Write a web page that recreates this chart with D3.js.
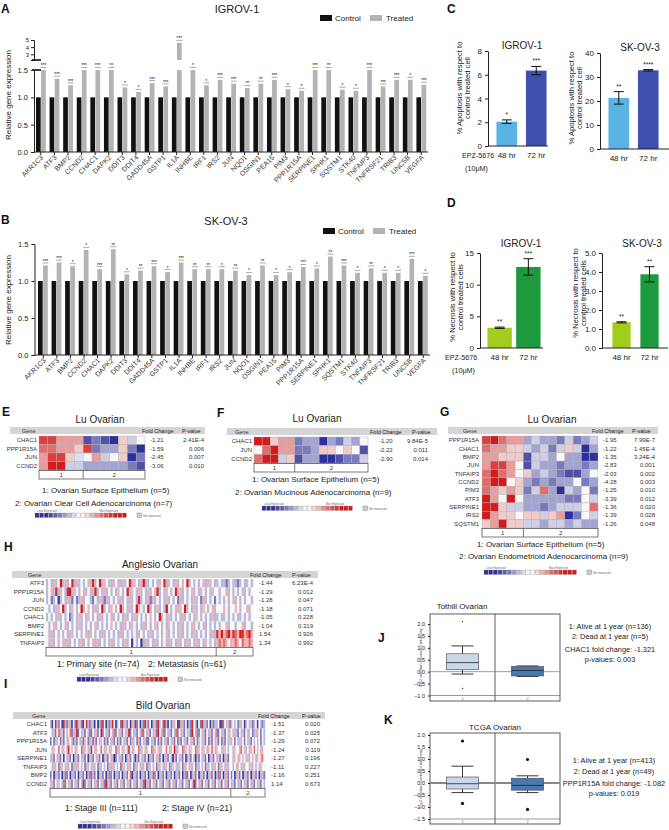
<!DOCTYPE html>
<html><head><meta charset="utf-8">
<script src="https://cdn.jsdelivr.net/npm/d3@7"></script>
<style>body{margin:0;background:#fff}svg{font-family:"Liberation Sans",Arial,sans-serif}</style>
</head><body>
<svg id="c" width="669" height="830"></svg>
<script>
// ---------------- DATA ----------------
const genes = ["AKR1C3","ATF3","BMP2","CCND2","CHAC1","DAPK2","DDIT3","DDIT4","GADD45A","GSTP1","IL1A","INHBE","IRF1","IRS2","JUN","NQO1","OSGIN1","PEA15","PIM3","PPP1R15A","SERPINE1","SPHK1","SQSTM1","STK40","TNFAIP3","TNFRSF21","TRIB3","UNC5B","VEGFA"];
const controlA = [1,1,1,1,1,1,1,1,1,1,1,1,1,1,1,1,1,1,1,1,1,1,1,1,1,1,1,1,1];
const treatedA = [1.5,1.34,1.22,1.5,1.5,1.5,1.18,1.10,1.26,1.20,4.6,1.5,1.22,1.32,1.25,1.17,1.25,1.32,1.15,1.12,1.5,1.5,1.14,1.12,1.5,1.20,1.32,1.32,1.23];
const starsA = ["***","***","***","***","***","**","*","*","***","***","***","*","*","***","***","**","**","***","*","*","***","**","*","*","***","***","***","*","***"];
const controlB = [1,1,1,1,1,1,1,1,1,1,1,1,1,1,1,1,1,1,1,1,1,1,1,1,1,1,1,1,1];
const treatedB = [1.21,1.25,1.20,1.42,1.16,1.43,1.09,1.14,1.20,1.12,1.25,1.16,1.16,1.16,1.14,1.08,1.21,1.08,1.12,1.19,1.17,1.33,1.21,1.11,1.17,1.11,1.11,1.30,1.07];
const starsB = ["***","***","*","*","***","**","*","**","***","*","***","**","**","*","**","*","**","*","*","***","*","**","***","*","**","*","*","***","*"];
const yTicksLower = [0,0.5,1.0,1.5];
const yTicksUpper = [3,4,5];

const timeCats = ["48 hr","72 hr"];
const apopIgrov = [2.05,6.35], apopIgrovErr = [0.15,0.35], apopIgrovStars = ["*","***"];
const apopSkov = [21.3,32.8], apopSkovErr = [2.6,0.3], apopSkovStars = ["**","****"];
const necIgrov = [3.2,12.8], necIgrovErr = [0.1,1.3], necIgrovStars = ["**","***"];
const necSkov = [1.35,3.88], necSkovErr = [0.03,0.4], necSkovStars = ["**","**"];

const genesE = ["CHAC1","PPP1R15A","JUN","CCND2"];
const fcE = ["-1.21","-1.59","-2.45","-3.06"];
const pE = ["2.41E-4","0.006","0.007","0.010"];
const heatE = [
 [2,2,1,1,1,-2,-1.5,-2,-3,0.5,-0.5,0],
 [1.5,1.5,1,1,0.5,2,-1.5,-1,-1,0.5,-1.5,-3],
 [1,2,2,0.5,-0.3,0,1,-0.5,0,0.5,-3,-1.5],
 [1,2.5,2.5,-0.5,-0.5,-1,-1,-1,-1,-1,-1.5,-2]];
const genesF = ["CHAC1","JUN","CCND2"];
const fcF = ["-1.20","-2.22","-2.90"];
const pF = ["9.84E-5","0.011","0.014"];
const heatF = [
 [2.5,2.5,0.5,1,1,-1.5,-1,-1,-3,-1,-1.5,-0.5,-1,0],
 [0,1.5,3,1,1,-1.5,-1.5,-1,0.5,0.5,0,0.5,0,-2],
 [1.5,2.5,2.5,-0.5,0.5,-2,-1,-1,-2.5,-2.5,-2,-1.5,-1.5,-0.5]];
const genesG = ["PPP1R15A","CHAC1","BMP2","JUN","TNFAIP3","CCND2","PIM3","ATF3","SERPINE1","IRS2","SQSTM1"];
const fcG = ["-1.95","-1.22","-1.35","-2.83","-2.03","-4.28","-1.25","-3.39","-1.36","-1.39","-1.26"];
const pG = ["7.99E-7","1.45E-4","3.24E-4","0.001","0.002","0.003","0.010","0.012","0.020","0.028","0.048"];
const heatG = [
 [2,2.5,1.5,1,1,-1,-0.5,-1,-1,-1.5,-0.5,-1.5,-1,-0.5],
 [1.5,1,1,0.5,0.5,-0.5,-1,-0.5,-1.5,-0.5,0.5,-0.5,-2.5,-1],
 [1,1,0.5,0.5,0.5,-2,-0.5,-0.5,-1,0,-1,-1,-2.5,-2.5],
 [1,2,2,1,0,-2,-0.5,-1,-1,-1.5,-1,-1,-1.5,-1],
 [1.5,2.5,1.5,1,0,0.5,-1,-0.5,-1,-1.5,-2,-2,-1,0],
 [1.5,2.5,2.5,0,0.5,-1,-1.5,-1,-1.5,-1,-1,0,-1.5,-1],
 [1.5,1,0.5,1,0.5,-1.5,-0.5,1.5,-1,-3,-0.5,-1,0,-1.5],
 [2.5,1,0,3,0,-1,-1,-1,-1,-1,-1.5,-1.5,0,-0.5],
 [3,2.5,0.5,-0.5,-0.5,-1,-1,-1.5,-1,-0.5,-0.5,-0.5,0,1.5],
 [2.5,1,0.5,0.5,0,0.5,0.5,-0.5,0.5,1,-3,-1.5,0,-0.5],
 [0.5,1,3.5,0.5,0.5,-0.5,-0.5,-1,-0.5,-0.5,-1,-0.5,-1,-1]];

// Anglesio: digit codes 0 (least) .. 4 (white) .. 8 (most); group1 | group2
const genesH = ["ATF3","PPP1R15A","JUN","CCND2","CHAC1","BMP2","SERPINE1","TNFAIP3"];
const fcH = ["-1.44","-1.29","-1.28","-1.18","-1.05","-1.04","1.54","1.34"];
const pH = ["6.23E-4","0.012","0.047","0.071","0.228","0.319","0.926","0.992"];
const heatH1 = [
 "3435348353 4735343453 7348354335 4335347354 3583343435 4735435345 4834343453 5343",
 "3453735437 8354345343 5734353434 3543473543 5343534573 4354347353 4345343543 4354",
 "3423413435 3242353443 2435325343 4353435343 7343525343 4353434253 4343534253 4342",
 "4343534834 3543483454 3534834354 3483435348 5434834353 4384345354 8343534354 3453",
 "3434353434 2343534354 3435343453 4343534353 4343454348 3435343435 3434354343 4353",
 "4345343453 4343534343 4534343454 3435343543 4353434534 3435434353 4345343453 4343",
 "4353434343 5343434535 4343534343 4353434343 5434353434 3453434353 4343534343 4353",
 "4353434535 3434353434 5353434353 4343534143 4135343534 3435343534 3534353435 4343"];
const heatH2 = [
 "3433234332 343343","4344534343 453434","4343434534 343443","4445434454 344534",
 "3433434343 343434","4344534434 453443","7585685765 875685","5656545565 465565"];

const genesI = ["CHAC1","ATF3","PPP1R15A","JUN","SERPINE1","TNFAIP3","BMP2","CCND2"];
const fcI = ["-1.51","-1.37","-1.29","-1.24","-1.27","-1.11","-1.16","1.14"];
const pI = ["0.020","0.025","0.072","0.119","0.196","0.227","0.251","0.673"];
const heatI1 = [
 "3147324173 2531427352 1473253140 3274152374 1342735241 5372413275 2413527342 7314253417 3524132743 1427352413 2534172435 2",
 "4352463524 3462538243 5243624352 4824352436 2435243582 4352436243 5243528436 2435243624 3524352843 6243524352 4362435243 5",
 "2425342524 3543252435 2542352524 3542524352 4252435242 5342524352 2435242524 3524352425 2435243524 2543524252 4352425243 5",
 "4354464354 3745435446 3543574354 4643543544 6354354374 3544635435 4463545354 4643548354 4635435446 3543543546 4354453543 4",
 "3524352414 3524135243 5241352435 2413524350 2435241352 4315243524 1352435241 3524305243 5241352431 5243524135 2435241352 4",
 "4353425343 5342535343 4253435342 5343425353 4342534353 4253435342 5343425343 5342534353 4253435342 5343425343 5342534353 4",
 "2413524136 2413524135 2413625241 3524136241 3524135246 1352413524 1352641352 4135241352 4136241352 4135241352 4136241352 4",
 "3524354362 4352435243 7243524352 4352835243 5243524352 4352435283 5243524352 4352435243 5243524382 4352435243 5243524352 4"];
const heatI2 = [
 "3434253413 4352341432 3","4353243524 3542353424 3","3424353424 3524343424 3","4354436453 4354645435 4",
 "4354534543 5345435456 4","4345343534 4353434534 4","2413524135 2413524135 2","3524352435 2435243524 3"];

const legendLevels = [-3,-2.7,-2.4,-2.1,-1.8,-1.5,-1.1,-0.7,-0.35,0,0,0.35,0.7,1.1,1.5,1.8,2.1,2.4,2.7,3];

const boxCats = ["1","2"];
const boxJ = [[-0.1,0.08,0.38,0.75,1.08],[-0.2,-0.18,0.05,0.22,0.24]];
const outJ = [[2.1,-0.7],[]];
const boxK = [[-0.4,-0.25,-0.03,0.25,0.7],[-0.4,-0.3,-0.1,0.2,0.3]];
const outK = [[1.75,-0.85],[0.98,-1.1]];
const ticksJ = [-1.0,-0.5,0.0,0.5,1.0,1.5,2.0];
const ticksK = [-1.5,-1.0,-0.5,0.0,0.5,1.0,1.5,2.0];

// ---------------- DRAW ----------------
const svg = d3.select("#c");
function T(x,y,s,o={}){
  const t = svg.append("text").attr("x",x).attr("y",y).text(s)
    .attr("font-size",o.fs||8).attr("fill",o.fill||"#222")
    .attr("text-anchor",o.anchor||"start");
  if(o.bold) t.attr("font-weight","bold");
  if(o.rot!==undefined) t.attr("transform",`rotate(${o.rot},${x},${y})`);
  return t;
}
function styleAxis(g,fs){
  g.selectAll("text").attr("font-size",fs).attr("fill","#222").attr("font-family","Liberation Sans, Arial, sans-serif");
  g.selectAll("path,line").attr("stroke","#222");
}
[["A",1,13],["B",1,224],["C",447,13],["D",447,207],["E",2,416],["F",217,417],["G",440,416],["H",4,551],["I",4,688],["J",378,642],["K",384,724]]
 .forEach(([s,x,y])=>T(x,y,s,{fs:12,bold:true,fill:"#111"}));

function drawExpr(o){
  const g = svg.append("g");
  const x = d3.scaleBand().domain(genes).range([o.x0,o.x1]);
  const y = d3.scaleLinear().domain([0,1.5]).range([o.yb,o.yt]);
  const bw = 4.7;
  const cl = v=>Math.min(v,1.5);
  g.selectAll(null).data(genes).join("rect")
    .attr("x",d=>x(d)+o.off).attr("y",(d,i)=>y(cl(o.control[i])))
    .attr("width",bw).attr("height",(d,i)=>y(0)-y(cl(o.control[i]))).attr("fill","#111");
  g.selectAll(null).data(genes).join("rect")
    .attr("x",d=>x(d)+o.off+bw+0.4).attr("y",(d,i)=>y(cl(o.treated[i])))
    .attr("width",bw).attr("height",(d,i)=>y(0)-y(cl(o.treated[i]))).attr("fill","#b3b3b3");
  let yU=null;
  if(o.upper){
    yU = d3.scaleLinear().domain(o.upper.domain).range(o.upper.range);
    const big = genes.map((d,i)=>i).filter(i=>o.treated[i]>o.upper.domain[0]);
    g.selectAll(null).data(big).join("rect")
      .attr("x",i=>x(genes[i])+o.off+bw+0.4).attr("y",i=>yU(o.treated[i]))
      .attr("width",bw).attr("height",i=>yU(o.upper.domain[0])-yU(o.treated[i])).attr("fill","#b3b3b3");
    const ga = g.append("g").attr("transform",`translate(${o.ax},0)`)
      .call(d3.axisLeft(yU).tickValues(yTicksUpper).tickFormat(d3.format("d")).tickSize(3).tickPadding(2));
    styleAxis(ga,6);
    [o.upper.range[0], o.yt].forEach(yy=>g.append("line").attr("x1",o.ax-2).attr("x2",o.ax+7).attr("y1",yy).attr("y2",yy).attr("stroke","#111").attr("stroke-width",1.6));
  }
  genes.forEach((d,i)=>{
    const v=o.treated[i];
    const top = (yU && v>o.upper.domain[0]) ? yU(v) : y(cl(v));
    const cx = x(d)+o.off+bw+0.4+bw/2;
    g.append("line").attr("x1",cx-3).attr("x2",cx+3).attr("y1",top-2.5).attr("y2",top-2.5).attr("stroke","#555").attr("stroke-width",0.5);
    g.append("text").attr("x",cx).attr("y",top-2.6).attr("text-anchor","middle").attr("font-size",4.6).attr("fill","#000").text(o.stars[i]);
  });
  const gy = g.append("g").attr("transform",`translate(${o.ax},0)`)
    .call(d3.axisLeft(y).tickValues(yTicksLower).tickFormat(d3.format(".1f")).tickSize(3));
  styleAxis(gy,7.5);
  const gx = g.append("g").attr("transform",`translate(0,${o.yb})`)
    .call(d3.axisBottom(x).tickSize(3).tickSizeOuter(0));
  gx.select(".domain").attr("d",`M${o.ax},0H${o.x1}`);
  styleAxis(gx,7);
  gx.selectAll("text").attr("y",0).attr("x",0).attr("dy",0).attr("text-anchor","end")
    .attr("transform","translate(3,6) rotate(-45)").attr("fill","#333");
  T(o.ylx,o.ylY,"Relative gene expression",{fs:8,anchor:"middle",rot:-90});
  T(o.tx,o.ty,o.title,{fs:11,anchor:"middle"});
  svg.append("rect").attr("x",o.lx).attr("y",o.ly-4).attr("width",12).attr("height",6).attr("fill","#111");
  T(o.lx+15,o.ly+2,"Control",{fs:8});
  svg.append("rect").attr("x",o.lx+50).attr("y",o.ly-4).attr("width",12).attr("height",6).attr("fill","#b3b3b3");
  T(o.lx+66,o.ly+2,"Treated",{fs:8});
}
drawExpr({x0:34,x1:428,off:2,yb:152,yt:70,ax:34,control:controlA,treated:treatedA,stars:starsA,
  upper:{domain:[2.2,5],range:[60,40]},ylx:11,ylY:95,title:"IGROV-1",tx:237,ty:13,lx:320,ly:19});
drawExpr({x0:36.5,x1:430,off:1.5,yb:355,yt:244,ax:34.5,control:controlB,treated:treatedB,stars:starsB,
  upper:null,ylx:11,ylY:300,title:"SK-OV-3",tx:226,ty:225,lx:323,ly:232});

function drawSmall(o){
  const g = svg.append("g");
  const x = d3.scaleBand().domain(timeCats).range([o.ax+o.b0,o.ax+o.b1]).paddingInner(o.pad).paddingOuter(0.05);
  const y = d3.scaleLinear().domain([0,o.max]).range([o.y0,o.y1]);
  g.selectAll(null).data(timeCats).join("rect")
    .attr("x",d=>x(d)).attr("y",(d,i)=>y(o.vals[i])).attr("width",x.bandwidth())
    .attr("height",(d,i)=>y(0)-y(o.vals[i])).attr("fill",(d,i)=>o.colors[i]);
  timeCats.forEach((d,i)=>{
    const cx=x(d)+x.bandwidth()/2, hi=y(o.vals[i]+o.errs[i]), lo=y(o.vals[i]-o.errs[i]);
    g.append("path").attr("d",`M${cx},${hi}V${lo}M${cx-5},${hi}H${cx+5}M${cx-5},${lo}H${cx+5}`).attr("stroke","#111").attr("stroke-width",1).attr("fill","none");
    g.append("text").attr("x",cx).attr("y",hi-3).attr("text-anchor","middle").attr("font-size",6.5).attr("fill","#222").text(o.stars[i]);
    T(cx,o.y0+12,d,{fs:8,anchor:"middle"});
  });
  const gy=g.append("g").attr("transform",`translate(${o.ax},0)`).call(d3.axisLeft(y).tickValues(o.ticks).tickSize(3).tickSizeOuter(0));
  styleAxis(gy,8);
  g.append("line").attr("x1",o.ax).attr("x2",o.ax+o.xe).attr("y1",o.y0).attr("y2",o.y0).attr("stroke","#222");
  T(o.tx,o.ty,o.title,{fs:10,anchor:"middle"});
  T(o.lx1,o.lyc,o.l1,{fs:7.6,anchor:"middle",rot:-90});
  T(o.lx2,o.lyc,o.l2,{fs:7.6,anchor:"middle",rot:-90});
  if(o.epz){T(o.epz[0],o.y0+12,"EPZ-5676",{fs:7.2});T(o.epz[1],o.y0+25,"(10μM)",{fs:7.2});}
}
const blueC=["#5ab4e3","#3f4fae"], greenC=["#a3cd1c","#1d9a3d"];
drawSmall({ax:488,y0:146,y1:51,max:8,ticks:[0,2,4,6,8],vals:apopIgrov,errs:apopIgrovErr,stars:apopIgrovStars,colors:blueC,
  b0:7,b1:60,pad:0.3,xe:60,title:"IGROV-1",tx:522,ty:49,l1:"% Apoptosis with  respect to",l2:"control treated cell",lx1:462,lx2:470,lyc:88,epz:[462,465]});
drawSmall({ax:600,y0:149,y1:53,max:40,ticks:[0,10,20,30,40],vals:apopSkov,errs:apopSkovErr,stars:apopSkovStars,colors:blueC,
  b0:7,b1:60,pad:0.3,xe:70,title:"SK-OV-3",tx:640,ty:51,l1:"% Apoptosis with  respect to",l2:"control treated cell",lx1:574,lx2:582,lyc:98});
drawSmall({ax:480,y0:348,y1:253,max:15,ticks:[0,5,10,15],vals:necIgrov,errs:necIgrovErr,stars:necIgrovStars,colors:greenC,
  b0:6,b1:62,pad:0.15,xe:63,title:"IGROV-1",tx:521,ty:247,l1:"% Necrosis with respect to",l2:"control treated cells",lx1:455,lx2:463,lyc:297,epz:[445,452]});
drawSmall({ax:602,y0:348,y1:253,max:5,ticks:[0,1,2,3,4,5],vals:necSkov,errs:necSkovErr,stars:necSkovStars,colors:greenC,
  b0:9,b1:58,pad:0.35,xe:66,title:"SK-OV-3",tx:642,ty:247,l1:"% Necrosis with respect to",l2:"control treated cells",lx1:578,lx2:586,lyc:293});

// heatmaps
const heatColor = d3.scaleLinear().domain([-2.4,0,2.4]).range(["#2e2e9c","#f8f8f8","#d61a1a"]).clamp(true);
const decode = s => s.replace(/ /g,"").split("").map(c=>(+c-4)*0.75);
function drawLegend(x,y,w){
  const sw=w/legendLevels.length;
  svg.selectAll(null).data(legendLevels).join("rect")
    .attr("x",(d,i)=>x+i*sw).attr("y",y).attr("width",sw-0.6).attr("height",4.5)
    .attr("fill",d=>heatColor(d)).attr("stroke","#888").attr("stroke-width",0.3);
  T(x+sw*0.5,y-1.5,"Least Expressed",{fs:2.6,fill:"#666"});
  T(x+w*0.7,y-1.5,"Most Expressed",{fs:2.6,fill:"#666"});
  svg.append("rect").attr("x",x+w+10).attr("y",y).attr("width",4.5).attr("height",4.5).attr("fill","#ccc").attr("stroke","#777").attr("stroke-width",0.4);
  T(x+w+16,y+3.5,"Not measured",{fs:2.8,fill:"#666"});
}
function drawHeat(o){
  const g = svg.append("g");
  T(o.tx,o.ty,o.title,{fs:o.tfs||10,anchor:"middle"});
  g.append("rect").attr("x",o.hx0).attr("y",o.hy).attr("width",o.hx1-o.hx0).attr("height",7).attr("fill","#d5d5d5");
  T(o.geneX,o.hy+5.5,"Gene",{fs:5.5,fill:"#333"});
  T(o.fcHX,o.hy+5.5,"Fold Change",{fs:5.5,fill:"#222"});
  T(o.pHX,o.hy+5.5,"P-value",{fs:5.5,fill:"#222"});
  const nCols = d3.max(o.data,r=>r.length);
  const x = d3.scaleBand().domain(d3.range(nCols)).range([o.cx0,o.cx1]);
  const y = d3.scaleBand().domain(o.genes).range([o.cy0,o.cy1]);
  o.genes.forEach((gn,ri)=>{
    g.selectAll(null).data(o.data[ri]).join("rect")
      .attr("x",(d,j)=>x(j)).attr("y",y(gn)).attr("width",x.bandwidth()+(o.stroke?0:0.25)).attr("height",y.bandwidth()+(o.stroke?0:0.1))
      .attr("fill",d=>heatColor(d)).attr("stroke",o.stroke?"#b0b0b0":"none").attr("stroke-width",0.4);
    T(o.labelX,y(gn)+y.bandwidth()/2+2,gn,{fs:o.gfs||6,anchor:"end",fill:"#333"});
    T(o.fcX,y(gn)+y.bandwidth()/2+2,o.fc[ri],{fs:o.gfs||6,fill:"#333"});
    T(o.pX,y(gn)+y.bandwidth()/2+2,o.p[ri],{fs:o.gfs||6,anchor:"end",fill:"#333"});
  });
  const gb0=o.cy1+0.5, gh=o.gh||8.5;
  g.append("rect").attr("x",o.cx0).attr("y",gb0).attr("width",o.cx1-o.cx0).attr("height",gh).attr("fill","none").attr("stroke","#444").attr("stroke-width",0.7);
  const xd = x(o.n1);
  g.append("line").attr("x1",xd).attr("x2",xd).attr("y1",gb0).attr("y2",gb0+gh).attr("stroke","#444").attr("stroke-width",0.7);
  T((o.cx0+xd)/2,gb0+gh-2,"1",{fs:6,anchor:"middle",fill:"#333"});
  T((xd+o.cx1)/2,gb0+gh-2,"2",{fs:6,anchor:"middle",fill:"#333"});
  o.caps.forEach(c=>T(c[0],c[1],c[2],{fs:o.cfs||8,anchor:c[3]||"start",fill:"#222"}));
  drawLegend(o.lgx,o.lgy,o.lgw);
}
drawHeat({title:"Lu Ovarian",tx:100,ty:423,hx0:10,hx1:205,hy:427,geneX:22,fcHX:142,pHX:182,
  genes:genesE,data:heatE,fc:fcE,p:pE,cx0:39,cx1:145,cy0:436,cy1:470,n1:5,stroke:true,labelX:37,fcX:150,pX:204,
  caps:[[42,493,"1: Ovarian Surface Epithelium  (n=5)"],[15,506,"2: Ovarian Clear Cell Adenocarcinoma (n=7)"]],lgx:35,lgy:513,lgw:92});
drawHeat({title:"Lu Ovarian",tx:317,ty:422,hx0:227,hx1:437,hy:428,geneX:235,fcHX:370,pHX:412,
  genes:genesF,data:heatF,fc:fcF,p:pF,cx0:254,cx1:368,cy0:437,cy1:463,n1:5,stroke:true,labelX:252,fcX:379,pX:428,
  caps:[[252,482,"1: Ovarian Surface Epithelium  (n=5)"],[235,495,"2: Ovarian Mucinous Adenocarcinoma (n=9)"]],lgx:262,lgy:506,lgw:91});
drawHeat({title:"Lu Ovarian",tx:552,ty:423,hx0:448,hx1:658,hy:427,geneX:463,fcHX:592,pHX:632,
  genes:genesG,data:heatG,fc:fcG,p:pG,cx0:482,cx1:598,cy0:436,cy1:528,n1:5,stroke:true,labelX:479,fcX:603,pX:655,
  caps:[[477,547,"1: Ovarian Surface Epithelium  (n=5)"],[459,559,"2: Ovarian Endometrioid Adenocarcinoma (n=9)"]],lgx:484,lgy:570,lgw:93});
drawHeat({title:"Anglesio Ovarian",tx:160,ty:568,hx0:12,hx1:318,hy:571,geneX:28,fcHX:250,pHX:292,
  genes:genesH,data:heatH1.map((s,i)=>decode(s).concat(decode(heatH2[i]))),fc:fcH,p:pH,cx0:46,cx1:253,cy0:579,cy1:647,n1:74,stroke:false,labelX:44,fcX:259,pX:313,
  caps:[[57,667,"1: Primary site (n=74)"],[148,667,"2: Metastasis (n=61)"]],cfs:8.6,lgx:77,lgy:677,lgw:91});
drawHeat({title:"Bild Ovarian",tx:163,ty:709,hx0:13,hx1:325,hy:712,geneX:32,fcHX:258,pHX:302,
  genes:genesI,data:heatI1.map((s,i)=>decode(s).concat(decode(heatI2[i]))),fc:fcI,p:pI,cx0:50,cx1:265,cy0:720,cy1:788,n1:111,stroke:false,labelX:47,fcX:271,pX:320,
  caps:[[65,811,"1: Stage III (n=111)"],[162,811,"2: Stage IV (n=21)"]],cfs:8.6,lgx:78,lgy:824,lgw:95});

// box plots
function drawBox(o){
  const g = svg.append("g");
  const x = d3.scaleBand().domain(boxCats).range([o.x0,o.x1]);
  const y = d3.scaleLinear().domain(o.dom).range(o.rng);
  T((o.x0+o.x1)/2+o.tdx,o.ty,o.title,{fs:8,anchor:"middle"});
  g.append("rect").attr("x",o.x0).attr("y",o.top).attr("width",o.x1-o.x0).attr("height",o.bottom-o.top).attr("fill","none").attr("stroke","#333").attr("stroke-width",0.8);
  g.append("line").attr("x1",x("2")).attr("x2",x("2")).attr("y1",o.top).attr("y2",o.bottom).attr("stroke","#333").attr("stroke-width",0.8);
  g.append("line").attr("x1",o.x0).attr("x2",o.x1).attr("y1",y(o.dom[0])).attr("y2",y(o.dom[0])).attr("stroke","#555").attr("stroke-width",0.6);
  g.append("line").attr("x1",o.x0).attr("x2",o.x1).attr("y1",y(0)).attr("y2",y(0)).attr("stroke","#888").attr("stroke-width",o.zw);
  const bw=32, cw=22;
  boxCats.forEach((c,i)=>{
    const [lo,q1,md,q3,hi]=o.stats[i]; const cx=x(c)+x.bandwidth()/2;
    g.append("path").attr("d",`M${cx},${y(hi)}V${y(q3)}M${cx},${y(q1)}V${y(lo)}M${cx-cw/2},${y(hi)}H${cx+cw/2}M${cx-cw/2},${y(lo)}H${cx+cw/2}`).attr("stroke","#222").attr("stroke-width",0.9);
    g.append("rect").attr("x",cx-bw/2).attr("y",y(q3)).attr("width",bw).attr("height",y(q1)-y(q3)).attr("fill",o.colors[i]).attr("stroke","#444").attr("stroke-width",0.6);
    g.append("line").attr("x1",cx-bw/2).attr("x2",cx+bw/2).attr("y1",y(md)).attr("y2",y(md)).attr("stroke","#222").attr("stroke-width",0.8);
    g.selectAll(null).data(o.out[i]).join("circle").attr("cx",cx).attr("cy",d=>y(d)).attr("r",o.r).attr("fill","#111");
    T(cx,o.bottom-1,c,{fs:4,anchor:"middle",fill:"#666"});
  });
  const ga=g.append("g").attr("transform",`translate(${o.x0},0)`).call(d3.axisLeft(y).tickValues(o.ticks).tickFormat(d3.format(".1f")).tickSize(2));
  ga.select(".domain").remove();
  styleAxis(ga,5.5);
  T(422,(o.top+o.bottom)/2,"log2 median-centered intensity",{fs:4.3,anchor:"middle",rot:-90,fill:"#444"});
  o.notes.forEach(n=>T(o.nx,n[0],n[1],{fs:7.4,anchor:"middle",fill:"#222"}));
}
const boxColors=["#c8d7ea","#4a78b0"];
drawBox({x0:430,x1:560,top:614,bottom:701,dom:[-1.0,2.0],rng:[695.5,624],ticks:ticksJ,stats:boxJ,out:outJ,colors:boxColors,r:0.7,zw:0.8,
  title:"Tothill Ovarian",tdx:-33,ty:609,nx:610,
  notes:[[629,"1: Alive at 1 year  (n=136)"],[639,"2: Dead at 1 year (n=5)"],[652,"CHAC1 fold change: -1.321"],[662,"p-values: 0.003"]]});
drawBox({x0:430,x1:560,top:733,bottom:824,dom:[-1.5,2.0],rng:[819,735],ticks:ticksK,stats:boxK,out:outK,colors:boxColors,r:1.6,zw:2,
  title:"TCGA Ovarian",tdx:0,ty:730,nx:614,
  notes:[[763,"1: Alive at 1 year  (n=413)"],[774,"2: Dead at 1 year (n=49)"],[786,"PPP1R15A fold change: -1.082"],[796,"p-values: 0.019"]]});
</script>
</body></html>
